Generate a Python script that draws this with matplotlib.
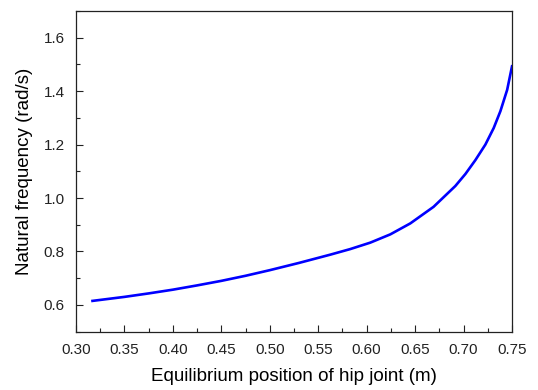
import matplotlib
matplotlib.use("Agg")
import matplotlib.pyplot as plt
from matplotlib.ticker import MultipleLocator

plt.rcParams['font.family'] = ['Liberation Sans', 'DejaVu Sans']

# values
hip_position = [0.317, 0.35, 0.375, 0.40, 0.425, 0.45, 0.475, 0.50, 0.53,
                0.5624, 0.5831, 0.6037, 0.6244, 0.645, 0.669, 0.6915, 0.7019,
                0.7122, 0.7225, 0.7311, 0.738, 0.745, 0.75]
natural_freq = [0.615, 0.630, 0.643, 0.657, 0.673, 0.690, 0.709, 0.730, 0.757,
                0.788, 0.809, 0.833, 0.864, 0.905, 0.967, 1.045, 1.090,
                1.142, 1.200, 1.262, 1.325, 1.405, 1.493]

fig = plt.figure(figsize=(5.38, 3.9), dpi=100)
ax = fig.add_axes([0.1413, 0.1497, 0.8104, 0.8221])

ax.plot(hip_position, natural_freq, color='#0000ff', linewidth=1.9,
        solid_joinstyle='round')

ax.set_xlim(0.30, 0.75)
ax.set_ylim(0.5, 1.7)
ax.xaxis.set_major_locator(MultipleLocator(0.05))
ax.xaxis.set_minor_locator(MultipleLocator(0.025))
ax.yaxis.set_major_locator(MultipleLocator(0.2))
ax.yaxis.set_minor_locator(MultipleLocator(0.1))
ax.set_xticklabels([f'{v:.2f}' for v in ax.get_xticks()])
ax.set_yticklabels([f'{v:.1f}' for v in ax.get_yticks()])

ax.tick_params(which='both', direction='in', top=False, right=False,
               labelsize=11, colors='#222222')
ax.tick_params(which='major', length=5, width=0.8, pad=8)
ax.tick_params(which='minor', length=3, width=0.8)
for s in ax.spines.values():
    s.set_linewidth(0.9)
    s.set_color('#222222')

ax.set_xlabel('Equilibrium position of hip joint (m)', fontsize=13.5, labelpad=8)
ax.set_ylabel('Natural frequency (rad/s)', fontsize=13.5, labelpad=8)

fig.savefig('out.png', dpi=100)
